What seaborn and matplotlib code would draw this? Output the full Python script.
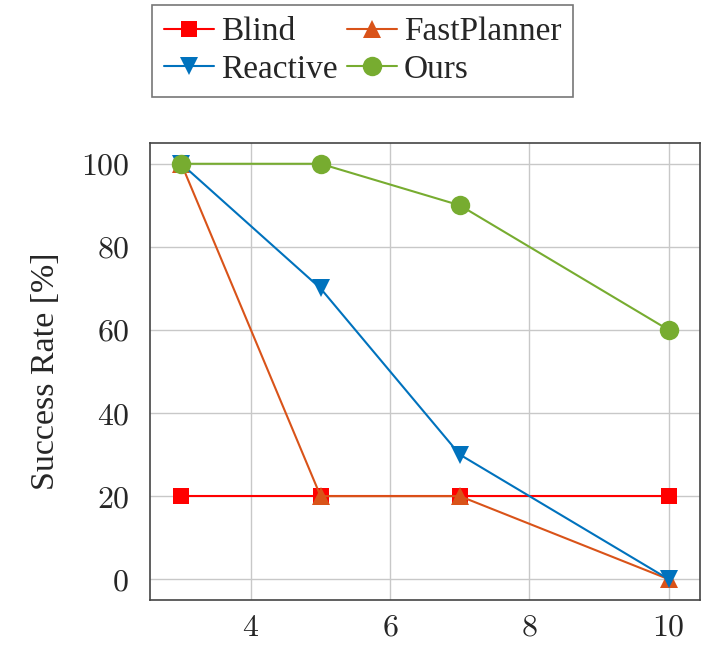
import pandas as pd
import seaborn as sns
import matplotlib.pyplot as plt
from matplotlib.ticker import FuncFormatter

obstacles = [3, 5, 7, 10]
methods = ["Blind", "FastPlanner", "Reactive", "Ours"]
blind = [20, 20, 20, 20]
fast_planner = [100, 20, 20, 0]
reactive = [100, 70, 30, 0]
ours = [100, 100, 90, 60]

colors = {"Blind": "#ff0000", "FastPlanner": "#d95319",
          "Reactive": "#0072bd", "Ours": "#77ac30"}
markers = {"Blind": "s", "FastPlanner": "^", "Reactive": "v", "Ours": "o"}
sizes = {"Blind": 11, "FastPlanner": 13, "Reactive": 13, "Ours": 14}

df = pd.DataFrame({
    "x": obstacles * 4,
    "rate": blind + fast_planner + reactive + ours,
    "method": sum([[m] * len(obstacles) for m in methods], []),
})

sns.set_style("white")
plt.rcParams["font.family"] = ["Liberation Serif", "DejaVu Serif"]
plt.rcParams["mathtext.fontset"] = "cm"

fig = plt.figure(figsize=(7.08, 6.47), dpi=100)
ax = fig.add_axes([150 / 708, 47 / 647, 550 / 708, 457 / 647])

for m in methods:
    sns.lineplot(data=df[df.method == m], x="x", y="rate", ax=ax,
                 color=colors[m], marker=markers[m], markersize=sizes[m],
                 markeredgewidth=0, linewidth=1.5, label=m)

ax.set_xlim(2.55, 10.45)
ax.set_ylim(-5, 105)
ax.set_xticks([4, 6, 8, 10])
ax.set_yticks([0, 20, 40, 60, 80, 100])
# numbers in Computer Modern, like the LaTeX original
ax.xaxis.set_major_formatter(FuncFormatter(lambda v, p: r"$%d$" % v))
ax.yaxis.set_major_formatter(FuncFormatter(lambda v, p: r"$%d$" % v))
ax.tick_params(axis="both", labelsize=23, direction="out", length=10,
               width=1, color="#bdbdbd", pad=5)
ax.tick_params(axis="x", length=8, pad=2)
ax.grid(True, color="#c8c8c8", linewidth=1)
ax.set_axisbelow(True)
for s in ax.spines.values():
    s.set_color("#444444")
    s.set_linewidth(1.2)
ax.set_xlabel("")
ax.set_ylabel("Success Rate [%]", fontsize=24.5, labelpad=14)

handles, labels = ax.get_legend_handles_labels()
ax.get_legend().remove()
order = [0, 2, 1, 3]
leg = fig.legend([handles[i] for i in order], [labels[i] for i in order],
                 ncol=2, loc="upper left",
                 bbox_to_anchor=(152 / 708, 1 - 5 / 647), borderaxespad=0,
                 fontsize=24, frameon=True, fancybox=False, edgecolor="#555555",
                 handlelength=1.5, handletextpad=0.2, columnspacing=0.3,
                 labelspacing=0.2, borderpad=0.36)
leg.get_frame().set_linewidth(1.2)

fig.savefig("out.png", dpi=100)
